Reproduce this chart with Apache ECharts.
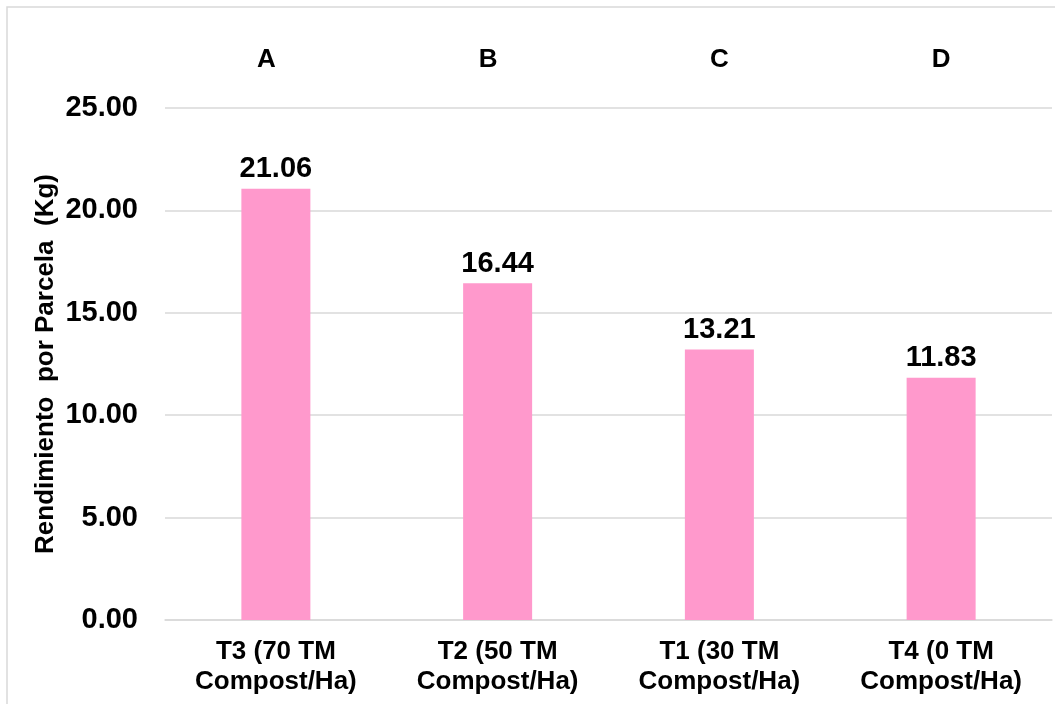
<!DOCTYPE html>
<html>
<head>
<meta charset="utf-8">
<script src="https://cdn.jsdelivr.net/npm/echarts@6/dist/echarts.min.js"></script>
<style>
html,body{margin:0;padding:0;background:#fff;}
#chart{width:1055px;height:704px;}
</style>
</head>
<body>
<div id="chart"></div>
<script>
const categories = ["T3 (70 TM\nCompost/Ha)", "T2 (50 TM\nCompost/Ha)", "T1 (30 TM\nCompost/Ha)", "T4 (0 TM\nCompost/Ha)"];
const values = [21.06, 16.44, 13.21, 11.83];
const groupLetters = ["A", "B", "C", "D"];
const yAxisName = "Rendimiento  por Parcela  (Kg)";

const FONT = '"Liberation Sans", Arial, sans-serif';
const chart = echarts.init(document.getElementById('chart'));
chart.setOption({
  backgroundColor: '#ffffff',
  animation: false,
  graphic: [{
    type: 'rect',
    shape: {x: 7, y: 7, width: 1200, height: 800},
    style: {fill: 'none', stroke: '#d9d9d9', lineWidth: 1.5},
    silent: true
  }],
  grid: {left: 165, right: 3, top: 108, bottom: 84},
  xAxis: [{
    type: 'category',
    data: categories,
    axisLine: {show: true, lineStyle: {color: '#d9d9d9', width: 1.5}},
    axisTick: {show: false},
    axisLabel: {color: '#000', fontFamily: FONT, fontWeight: 'bold', fontSize: 26, lineHeight: 30, margin: 17, interval: 0}
  }, {
    type: 'category',
    position: 'top',
    data: groupLetters,
    axisLine: {show: false},
    axisTick: {show: false},
    axisLabel: {color: '#000', fontFamily: FONT, fontWeight: 'bold', fontSize: 26, margin: 35, interval: 0,
      formatter: (v, i) => i < 2 ? '{s|' + v + '}' : v,
      rich: {s: {color: '#000', fontFamily: FONT, fontWeight: 'bold', fontSize: 26, padding: [0, 19, 0, 0]}}}
  }],
  yAxis: {
    type: 'value',
    min: 0, max: 25, interval: 5,
    name: yAxisName,
    nameLocation: 'middle',
    nameGap: 106,
    nameMoveOverlap: false,
    nameTextStyle: {color: '#000', fontFamily: FONT, fontWeight: 'bold', fontSize: 26},
    axisLine: {show: false},
    axisTick: {show: false},
    splitLine: {lineStyle: {color: '#d9d9d9', width: 1.5}},
    axisLabel: {color: '#000', fontFamily: FONT, fontWeight: 'bold', fontSize: 29, margin: 27,
      formatter: v => v.toFixed(2)}
  },
  series: [{
    type: 'bar',
    data: values,
    barWidth: 69,
    itemStyle: {color: '#ff99cc'},
    label: {show: true, position: 'top', distance: 5, color: '#000', fontFamily: FONT, fontWeight: 'bold', fontSize: 29,
      formatter: p => p.value.toFixed(2)}
  }]
});
</script>
</body>
</html>
